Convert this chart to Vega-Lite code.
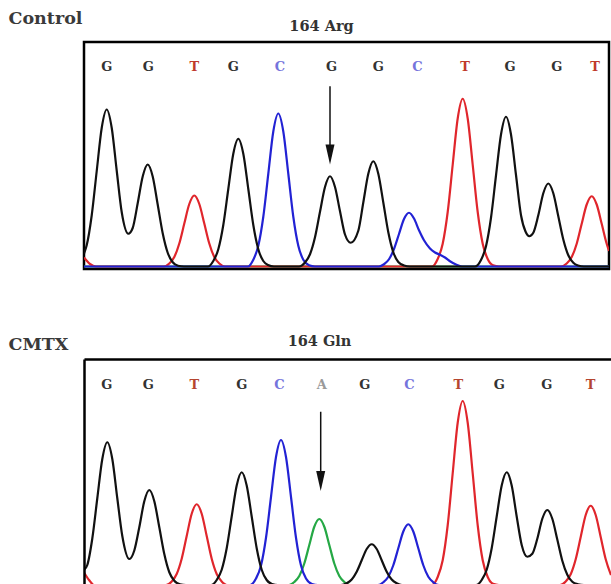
{
  "$schema": "https://vega.github.io/schema/vega-lite/v6.json",
  "background": "white",
  "padding": {"left": 6, "top": 8, "right": 0, "bottom": 0},
  "config": {"view": {"stroke": null}, "concat": {"spacing": 62}},
  "datasets": {
    "topTraces": [
      {"base": "A", "scan": 0, "signal": 0}, {"base": "A", "scan": 525, "signal": 0},
      {"base": "T", "scan": 0, "signal": 36}, {"base": "T", "scan": 6, "signal": 10}, {"base": "T", "scan": 12, "signal": 0}, {"base": "T", "scan": 80, "signal": 0},
      {"base": "T", "scan": 85.3, "signal": 12}, {"base": "T", "scan": 90.3, "signal": 38}, {"base": "T", "scan": 95.3, "signal": 92}, {"base": "T", "scan": 100.3, "signal": 172}, {"base": "T", "scan": 105.3, "signal": 250}, {"base": "T", "scan": 110.3, "signal": 284}, {"base": "T", "scan": 115.3, "signal": 250}, {"base": "T", "scan": 120.3, "signal": 172}, {"base": "T", "scan": 125.3, "signal": 92}, {"base": "T", "scan": 130.3, "signal": 38}, {"base": "T", "scan": 135.3, "signal": 12}, {"base": "T", "scan": 141, "signal": 0},
      {"base": "T", "scan": 348, "signal": 0}, {"base": "T", "scan": 353.7, "signal": 30}, {"base": "T", "scan": 358.7, "signal": 91}, {"base": "T", "scan": 363.7, "signal": 218}, {"base": "T", "scan": 368.7, "signal": 407}, {"base": "T", "scan": 373.7, "signal": 592}, {"base": "T", "scan": 378.7, "signal": 671}, {"base": "T", "scan": 383.7, "signal": 592}, {"base": "T", "scan": 388.7, "signal": 407}, {"base": "T", "scan": 393.7, "signal": 218}, {"base": "T", "scan": 398.7, "signal": 91}, {"base": "T", "scan": 403.7, "signal": 30}, {"base": "T", "scan": 409, "signal": 5}, {"base": "T", "scan": 415, "signal": 0},
      {"base": "T", "scan": 477, "signal": 0}, {"base": "T", "scan": 482.7, "signal": 12}, {"base": "T", "scan": 487.7, "signal": 38}, {"base": "T", "scan": 492.7, "signal": 91}, {"base": "T", "scan": 497.7, "signal": 171}, {"base": "T", "scan": 502.7, "signal": 248}, {"base": "T", "scan": 507.7, "signal": 281}, {"base": "T", "scan": 512.7, "signal": 248}, {"base": "T", "scan": 517.7, "signal": 171}, {"base": "T", "scan": 522.7, "signal": 91}, {"base": "T", "scan": 525, "signal": 62},
      {"base": "C", "scan": 0, "signal": 0}, {"base": "C", "scan": 164, "signal": 0}, {"base": "C", "scan": 169.3, "signal": 27}, {"base": "C", "scan": 174.3, "signal": 83}, {"base": "C", "scan": 179.3, "signal": 199}, {"base": "C", "scan": 184.3, "signal": 371}, {"base": "C", "scan": 189.3, "signal": 540}, {"base": "C", "scan": 194.3, "signal": 612}, {"base": "C", "scan": 199.3, "signal": 540}, {"base": "C", "scan": 204.3, "signal": 371}, {"base": "C", "scan": 209.3, "signal": 199}, {"base": "C", "scan": 214.3, "signal": 83}, {"base": "C", "scan": 219.3, "signal": 27}, {"base": "C", "scan": 225, "signal": 5}, {"base": "C", "scan": 231, "signal": 0},
      {"base": "C", "scan": 295, "signal": 0}, {"base": "C", "scan": 300, "signal": 9}, {"base": "C", "scan": 305, "signal": 29}, {"base": "C", "scan": 310, "signal": 70}, {"base": "C", "scan": 315, "signal": 130}, {"base": "C", "scan": 320, "signal": 190}, {"base": "C", "scan": 325, "signal": 215}, {"base": "C", "scan": 330, "signal": 192}, {"base": "C", "scan": 335, "signal": 145}, {"base": "C", "scan": 340, "signal": 105}, {"base": "C", "scan": 346, "signal": 72}, {"base": "C", "scan": 351, "signal": 56}, {"base": "C", "scan": 356, "signal": 47}, {"base": "C", "scan": 361, "signal": 36}, {"base": "C", "scan": 366, "signal": 21}, {"base": "C", "scan": 372, "signal": 8}, {"base": "C", "scan": 378, "signal": 0}, {"base": "C", "scan": 525, "signal": 0},
      {"base": "G", "scan": 0, "signal": 52}, {"base": "G", "scan": 2.7, "signal": 85}, {"base": "G", "scan": 7.7, "signal": 204}, {"base": "G", "scan": 12.7, "signal": 381}, {"base": "G", "scan": 17.7, "signal": 554}, {"base": "G", "scan": 22.7, "signal": 628}, {"base": "G", "scan": 27.7, "signal": 555}, {"base": "G", "scan": 32.7, "signal": 384}, {"base": "G", "scan": 37.7, "signal": 218}, {"base": "G", "scan": 44.3, "signal": 131}, {"base": "G", "scan": 48.7, "signal": 154}, {"base": "G", "scan": 53.7, "signal": 253}, {"base": "G", "scan": 58.7, "signal": 360}, {"base": "G", "scan": 63.7, "signal": 408}, {"base": "G", "scan": 68.7, "signal": 360}, {"base": "G", "scan": 73.7, "signal": 248}, {"base": "G", "scan": 78.7, "signal": 133}, {"base": "G", "scan": 83.7, "signal": 55}, {"base": "G", "scan": 88.7, "signal": 17}, {"base": "G", "scan": 94, "signal": 3}, {"base": "G", "scan": 100, "signal": 0},
      {"base": "G", "scan": 124, "signal": 0}, {"base": "G", "scan": 129.3, "signal": 22}, {"base": "G", "scan": 134.3, "signal": 69}, {"base": "G", "scan": 139.3, "signal": 166}, {"base": "G", "scan": 144.3, "signal": 310}, {"base": "G", "scan": 149.3, "signal": 451}, {"base": "G", "scan": 154.3, "signal": 511}, {"base": "G", "scan": 159.3, "signal": 451}, {"base": "G", "scan": 164.3, "signal": 310}, {"base": "G", "scan": 169.3, "signal": 166}, {"base": "G", "scan": 174.3, "signal": 69}, {"base": "G", "scan": 179.3, "signal": 22}, {"base": "G", "scan": 184, "signal": 6}, {"base": "G", "scan": 190, "signal": 0},
      {"base": "G", "scan": 215, "signal": 0}, {"base": "G", "scan": 221, "signal": 16}, {"base": "G", "scan": 226, "signal": 49}, {"base": "G", "scan": 231, "signal": 117}, {"base": "G", "scan": 236, "signal": 219}, {"base": "G", "scan": 241, "signal": 318}, {"base": "G", "scan": 246, "signal": 361}, {"base": "G", "scan": 251, "signal": 318}, {"base": "G", "scan": 256, "signal": 221}, {"base": "G", "scan": 261, "signal": 128}, {"base": "G", "scan": 266.7, "signal": 95}, {"base": "G", "scan": 274.3, "signal": 143}, {"base": "G", "scan": 279.3, "signal": 256}, {"base": "G", "scan": 284.3, "signal": 371}, {"base": "G", "scan": 289.3, "signal": 421}, {"base": "G", "scan": 294.3, "signal": 371}, {"base": "G", "scan": 299.3, "signal": 256}, {"base": "G", "scan": 304.3, "signal": 137}, {"base": "G", "scan": 309.3, "signal": 57}, {"base": "G", "scan": 314.3, "signal": 18}, {"base": "G", "scan": 320, "signal": 4}, {"base": "G", "scan": 326, "signal": 0},
      {"base": "G", "scan": 391, "signal": 0}, {"base": "G", "scan": 397, "signal": 26}, {"base": "G", "scan": 402, "signal": 81}, {"base": "G", "scan": 407, "signal": 195}, {"base": "G", "scan": 412, "signal": 364}, {"base": "G", "scan": 417, "signal": 528}, {"base": "G", "scan": 422, "signal": 599}, {"base": "G", "scan": 427, "signal": 528}, {"base": "G", "scan": 432, "signal": 366}, {"base": "G", "scan": 437, "signal": 205}, {"base": "G", "scan": 441.5, "signal": 140}, {"base": "G", "scan": 445.3, "signal": 121}, {"base": "G", "scan": 449.3, "signal": 135}, {"base": "G", "scan": 454.3, "signal": 205}, {"base": "G", "scan": 459.3, "signal": 293}, {"base": "G", "scan": 464.3, "signal": 332}, {"base": "G", "scan": 469.3, "signal": 293}, {"base": "G", "scan": 474.3, "signal": 201}, {"base": "G", "scan": 479.3, "signal": 108}, {"base": "G", "scan": 484.3, "signal": 45}, {"base": "G", "scan": 489.3, "signal": 15}, {"base": "G", "scan": 494, "signal": 4}, {"base": "G", "scan": 500, "signal": 0}, {"base": "G", "scan": 525, "signal": 0}
    ],
    "bottomTraces": [
      {"base": "A", "scan": 0, "signal": 0}, {"base": "A", "scan": 205, "signal": 0}, {"base": "A", "scan": 210.3, "signal": 12}, {"base": "A", "scan": 215.3, "signal": 36}, {"base": "A", "scan": 220.3, "signal": 86}, {"base": "A", "scan": 225.3, "signal": 160}, {"base": "A", "scan": 230.3, "signal": 233}, {"base": "A", "scan": 235.3, "signal": 264}, {"base": "A", "scan": 240.3, "signal": 233}, {"base": "A", "scan": 245.3, "signal": 160}, {"base": "A", "scan": 250.3, "signal": 86}, {"base": "A", "scan": 255.3, "signal": 36}, {"base": "A", "scan": 260.3, "signal": 12}, {"base": "A", "scan": 266, "signal": 0}, {"base": "A", "scan": 527, "signal": 0},
      {"base": "T", "scan": 0, "signal": 50}, {"base": "T", "scan": 5, "signal": 20}, {"base": "T", "scan": 10, "signal": 0}, {"base": "T", "scan": 82, "signal": 0},
      {"base": "T", "scan": 87.7, "signal": 14}, {"base": "T", "scan": 92.7, "signal": 44}, {"base": "T", "scan": 97.7, "signal": 105}, {"base": "T", "scan": 102.7, "signal": 196}, {"base": "T", "scan": 107.7, "signal": 285}, {"base": "T", "scan": 112.7, "signal": 323}, {"base": "T", "scan": 117.7, "signal": 285}, {"base": "T", "scan": 122.7, "signal": 196}, {"base": "T", "scan": 127.7, "signal": 105}, {"base": "T", "scan": 132.7, "signal": 44}, {"base": "T", "scan": 137.7, "signal": 14}, {"base": "T", "scan": 143, "signal": 0},
      {"base": "T", "scan": 348, "signal": 0}, {"base": "T", "scan": 353.7, "signal": 32}, {"base": "T", "scan": 358.7, "signal": 99}, {"base": "T", "scan": 363.7, "signal": 239}, {"base": "T", "scan": 368.7, "signal": 447}, {"base": "T", "scan": 373.7, "signal": 649}, {"base": "T", "scan": 378.7, "signal": 736}, {"base": "T", "scan": 383.7, "signal": 649}, {"base": "T", "scan": 388.7, "signal": 447}, {"base": "T", "scan": 393.7, "signal": 239}, {"base": "T", "scan": 398.7, "signal": 99}, {"base": "T", "scan": 403.7, "signal": 32}, {"base": "T", "scan": 409, "signal": 5}, {"base": "T", "scan": 415, "signal": 0},
      {"base": "T", "scan": 476, "signal": 0}, {"base": "T", "scan": 481.7, "signal": 14}, {"base": "T", "scan": 486.7, "signal": 43}, {"base": "T", "scan": 491.7, "signal": 103}, {"base": "T", "scan": 496.7, "signal": 192}, {"base": "T", "scan": 501.7, "signal": 280}, {"base": "T", "scan": 506.7, "signal": 317}, {"base": "T", "scan": 511.7, "signal": 280}, {"base": "T", "scan": 516.7, "signal": 192}, {"base": "T", "scan": 521.7, "signal": 103}, {"base": "T", "scan": 527, "signal": 40},
      {"base": "C", "scan": 0, "signal": 0}, {"base": "C", "scan": 166, "signal": 0}, {"base": "C", "scan": 172, "signal": 26}, {"base": "C", "scan": 177, "signal": 78}, {"base": "C", "scan": 182, "signal": 189}, {"base": "C", "scan": 187, "signal": 352}, {"base": "C", "scan": 192, "signal": 512}, {"base": "C", "scan": 197, "signal": 580}, {"base": "C", "scan": 202, "signal": 512}, {"base": "C", "scan": 207, "signal": 352}, {"base": "C", "scan": 212, "signal": 189}, {"base": "C", "scan": 217, "signal": 78}, {"base": "C", "scan": 222, "signal": 26}, {"base": "C", "scan": 228, "signal": 4}, {"base": "C", "scan": 234, "signal": 0},
      {"base": "C", "scan": 294, "signal": 0}, {"base": "C", "scan": 299.3, "signal": 11}, {"base": "C", "scan": 304.3, "signal": 33}, {"base": "C", "scan": 309.3, "signal": 79}, {"base": "C", "scan": 314.3, "signal": 147}, {"base": "C", "scan": 319.3, "signal": 214}, {"base": "C", "scan": 324.3, "signal": 243}, {"base": "C", "scan": 329.3, "signal": 214}, {"base": "C", "scan": 334.3, "signal": 147}, {"base": "C", "scan": 339.3, "signal": 79}, {"base": "C", "scan": 344.3, "signal": 33}, {"base": "C", "scan": 349.3, "signal": 11}, {"base": "C", "scan": 355, "signal": 0}, {"base": "C", "scan": 527, "signal": 0},
      {"base": "G", "scan": 0, "signal": 60}, {"base": "G", "scan": 3.3, "signal": 80}, {"base": "G", "scan": 8.3, "signal": 186}, {"base": "G", "scan": 13.3, "signal": 347}, {"base": "G", "scan": 18.3, "signal": 504}, {"base": "G", "scan": 23.3, "signal": 571}, {"base": "G", "scan": 28.3, "signal": 504}, {"base": "G", "scan": 33.3, "signal": 347}, {"base": "G", "scan": 38.3, "signal": 196}, {"base": "G", "scan": 45.3, "signal": 104}, {"base": "G", "scan": 50.3, "signal": 138}, {"base": "G", "scan": 55.3, "signal": 231}, {"base": "G", "scan": 60.3, "signal": 335}, {"base": "G", "scan": 65.3, "signal": 380}, {"base": "G", "scan": 70.3, "signal": 335}, {"base": "G", "scan": 75.3, "signal": 231}, {"base": "G", "scan": 80.3, "signal": 124}, {"base": "G", "scan": 85.3, "signal": 51}, {"base": "G", "scan": 90.3, "signal": 17}, {"base": "G", "scan": 96, "signal": 3}, {"base": "G", "scan": 102, "signal": 0},
      {"base": "G", "scan": 127, "signal": 0}, {"base": "G", "scan": 132.7, "signal": 20}, {"base": "G", "scan": 137.7, "signal": 61}, {"base": "G", "scan": 142.7, "signal": 147}, {"base": "G", "scan": 147.7, "signal": 274}, {"base": "G", "scan": 152.7, "signal": 398}, {"base": "G", "scan": 157.7, "signal": 451}, {"base": "G", "scan": 162.7, "signal": 398}, {"base": "G", "scan": 167.7, "signal": 274}, {"base": "G", "scan": 172.7, "signal": 147}, {"base": "G", "scan": 177.7, "signal": 61}, {"base": "G", "scan": 182.7, "signal": 20}, {"base": "G", "scan": 188, "signal": 4}, {"base": "G", "scan": 194, "signal": 0},
      {"base": "G", "scan": 257, "signal": 0}, {"base": "G", "scan": 262.7, "signal": 7}, {"base": "G", "scan": 267.7, "signal": 22}, {"base": "G", "scan": 272.7, "signal": 53}, {"base": "G", "scan": 277.7, "signal": 99}, {"base": "G", "scan": 282.7, "signal": 144}, {"base": "G", "scan": 287.7, "signal": 163}, {"base": "G", "scan": 292.7, "signal": 144}, {"base": "G", "scan": 297.7, "signal": 99}, {"base": "G", "scan": 302.7, "signal": 53}, {"base": "G", "scan": 307.7, "signal": 22}, {"base": "G", "scan": 312.7, "signal": 7}, {"base": "G", "scan": 318, "signal": 0},
      {"base": "G", "scan": 392, "signal": 0}, {"base": "G", "scan": 397.7, "signal": 20}, {"base": "G", "scan": 402.7, "signal": 61}, {"base": "G", "scan": 407.7, "signal": 147}, {"base": "G", "scan": 412.7, "signal": 274}, {"base": "G", "scan": 417.7, "signal": 398}, {"base": "G", "scan": 422.7, "signal": 451}, {"base": "G", "scan": 427.7, "signal": 398}, {"base": "G", "scan": 432.7, "signal": 274}, {"base": "G", "scan": 437.7, "signal": 160}, {"base": "G", "scan": 443.3, "signal": 113}, {"base": "G", "scan": 448.3, "signal": 125}, {"base": "G", "scan": 453.3, "signal": 185}, {"base": "G", "scan": 458.3, "signal": 265}, {"base": "G", "scan": 463.3, "signal": 300}, {"base": "G", "scan": 468.3, "signal": 265}, {"base": "G", "scan": 473.3, "signal": 182}, {"base": "G", "scan": 478.3, "signal": 97}, {"base": "G", "scan": 483.3, "signal": 41}, {"base": "G", "scan": 488.3, "signal": 13}, {"base": "G", "scan": 494, "signal": 3}, {"base": "G", "scan": 500, "signal": 0}, {"base": "G", "scan": 527, "signal": 0}
    ],
    "topCalls": [
      {"base": "G", "scan": 22.7, "signal": 800}, {"base": "G", "scan": 64.3, "signal": 800}, {"base": "T", "scan": 110.3, "signal": 800}, {"base": "G", "scan": 149.3, "signal": 800}, {"base": "C", "scan": 196, "signal": 800}, {"base": "G", "scan": 247.5, "signal": 800}, {"base": "G", "scan": 294.3, "signal": 800}, {"base": "C", "scan": 333.3, "signal": 800}, {"base": "T", "scan": 381, "signal": 800}, {"base": "G", "scan": 426, "signal": 800}, {"base": "G", "scan": 472.7, "signal": 800}, {"base": "T", "scan": 511, "signal": 800}
    ],
    "bottomCalls": [
      {"base": "G", "scan": 22.7, "signal": 800}, {"base": "G", "scan": 64.3, "signal": 800}, {"base": "T", "scan": 110.3, "signal": 800}, {"base": "G", "scan": 157.7, "signal": 800}, {"base": "C", "scan": 195.3, "signal": 800}, {"base": "A", "scan": 237.7, "signal": 800}, {"base": "G", "scan": 280.7, "signal": 800}, {"base": "C", "scan": 325.3, "signal": 800}, {"base": "T", "scan": 374.3, "signal": 800}, {"base": "G", "scan": 415.3, "signal": 800}, {"base": "G", "scan": 462.7, "signal": 800}, {"base": "T", "scan": 506.7, "signal": 800}
    ],
    "topArrow": [
      {"part": "shaft", "scan": 246, "signal": 721, "signal2": 468},
      {"part": "head", "scan": 246, "signal": 448, "signal2": 448}
    ],
    "bottomArrow": [
      {"part": "shaft", "scan": 236.7, "signal": 693, "signal2": 444},
      {"part": "head", "scan": 236.7, "signal": 416, "signal2": 416}
    ]
  },
  "vconcat": [
    {
      "width": 525,
      "height": 227,
      "view": {"stroke": "#000000", "strokeWidth": 2.5},
      "encoding": {
        "x": {"field": "scan", "type": "quantitative", "scale": {"domain": [0, 525], "nice": false, "zero": false},
          "axis": {"orient": "top", "domain": false, "ticks": false, "labels": false, "grid": false, "title": "164 Arg", "titleX": 237, "titleY": -12, "titleAlign": "center", "titleBaseline": "alphabetic", "titleFont": "DejaVu Serif", "titleFontSize": 14.5, "titleFontWeight": "bold", "titleColor": "#333333"}},
        "y": {"field": "signal", "type": "quantitative", "scale": {"domain": [-10, 898], "nice": false, "zero": false},
          "axis": {"orient": "left", "domain": false, "ticks": false, "labels": false, "grid": false, "title": "Control", "titleAngle": 0, "titleX": -76, "titleY": -18.5, "titleAlign": "left", "titleBaseline": "alphabetic", "titleFont": "DejaVu Serif", "titleFontSize": 17.5, "titleFontWeight": "bold", "titleColor": "#3a3a3a"}}
      },
      "resolve": {"scale": {"color": "independent"}},
      "layer": [
        {
          "data": {"name": "topTraces"},
          "mark": {"type": "line", "interpolate": "monotone", "strokeWidth": 2.2, "clip": true},
          "encoding": {"color": {"field": "base", "type": "nominal", "scale": {"domain": ["G", "T", "C", "A"], "range": ["#111111", "#e0262c", "#2222d4", "#25a845"]}, "legend": null}}
        },
        {
          "data": {"name": "topCalls"},
          "mark": {"type": "text", "font": "DejaVu Serif", "fontWeight": "bold", "fontSize": 13, "baseline": "middle", "align": "center"},
          "encoding": {"text": {"field": "base"}, "color": {"field": "base", "type": "nominal", "scale": {"domain": ["G", "T", "C", "A"], "range": ["#333333", "#c0392b", "#7474dc", "#9a9a9a"]}, "legend": null}}
        },
        {
          "data": {"name": "topArrow"},
          "transform": [{"filter": "datum.part === 'shaft'"}],
          "mark": {"type": "rule", "color": "#111111", "strokeWidth": 1.5},
          "encoding": {"y2": {"field": "signal2"}}
        },
        {
          "data": {"name": "topArrow"},
          "transform": [{"filter": "datum.part === 'head'"}],
          "mark": {"type": "point", "shape": "M-0.45,-1L0.45,-1L0,1Z", "filled": true, "size": 400, "color": "#111111", "opacity": 1},
          "encoding": {}
        }
      ]
    },
    {
      "width": 527,
      "height": 225,
      "encoding": {
        "x": {"field": "scan", "type": "quantitative", "scale": {"domain": [0, 527], "nice": false, "zero": false},
          "axis": {"orient": "top", "domain": true, "domainColor": "#000000", "domainWidth": 2.5, "ticks": false, "labels": false, "grid": false, "zindex": 1, "title": "164 Gln", "titleX": 235, "titleY": -14, "titleAlign": "center", "titleBaseline": "alphabetic", "titleFont": "DejaVu Serif", "titleFontSize": 14.5, "titleFontWeight": "bold", "titleColor": "#333333"}},
        "y": {"field": "signal", "type": "quantitative", "scale": {"domain": [4, 904], "nice": false, "zero": false},
          "axis": {"orient": "left", "domain": true, "domainColor": "#000000", "domainWidth": 2.5, "ticks": false, "labels": false, "grid": false, "zindex": 1, "title": "CMTX", "titleAngle": 0, "titleX": -76, "titleY": -10, "titleAlign": "left", "titleBaseline": "alphabetic", "titleFont": "DejaVu Serif", "titleFontSize": 17.5, "titleFontWeight": "bold", "titleColor": "#3a3a3a"}}
      },
      "resolve": {"scale": {"color": "independent"}},
      "layer": [
        {
          "data": {"name": "bottomTraces"},
          "mark": {"type": "line", "interpolate": "monotone", "strokeWidth": 2.2, "clip": true},
          "encoding": {"color": {"field": "base", "type": "nominal", "scale": {"domain": ["G", "T", "C", "A"], "range": ["#111111", "#e0262c", "#2222d4", "#25a845"]}, "legend": null}}
        },
        {
          "data": {"name": "bottomCalls"},
          "mark": {"type": "text", "font": "DejaVu Serif", "fontWeight": "bold", "fontSize": 13, "baseline": "middle", "align": "center"},
          "encoding": {"text": {"field": "base"}, "color": {"field": "base", "type": "nominal", "scale": {"domain": ["G", "T", "C", "A"], "range": ["#333333", "#b5452f", "#7474dc", "#9a9a9a"]}, "legend": null}}
        },
        {
          "data": {"name": "bottomArrow"},
          "transform": [{"filter": "datum.part === 'shaft'"}],
          "mark": {"type": "rule", "color": "#111111", "strokeWidth": 1.5},
          "encoding": {"y2": {"field": "signal2"}}
        },
        {
          "data": {"name": "bottomArrow"},
          "transform": [{"filter": "datum.part === 'head'"}],
          "mark": {"type": "point", "shape": "M-0.45,-1L0.45,-1L0,1Z", "filled": true, "size": 400, "color": "#111111", "opacity": 1},
          "encoding": {}
        }
      ]
    }
  ]
}
